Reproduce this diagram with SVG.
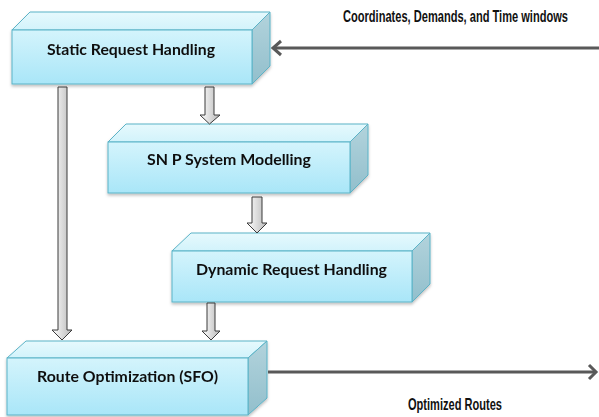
<svg xmlns="http://www.w3.org/2000/svg" width="599" height="417" viewBox="0 0 599 417">
<defs>
<linearGradient id="gFront" x1="0" y1="0" x2="0" y2="1">
<stop offset="0" stop-color="#d4f4fc"/>
<stop offset="1" stop-color="#a9e6f8"/>
</linearGradient>
<linearGradient id="gTop" x1="0" y1="0" x2="0" y2="1">
<stop offset="0" stop-color="#e6f9fd"/>
<stop offset="1" stop-color="#d2f3fb"/>
</linearGradient>
<linearGradient id="gSide" x1="0" y1="0" x2="0" y2="1">
<stop offset="0" stop-color="#b2d3dc"/>
<stop offset="1" stop-color="#92bfcc"/>
</linearGradient>
<linearGradient id="gArrow" x1="0" y1="0" x2="1" y2="0">
<stop offset="0" stop-color="#ffffff"/>
<stop offset="1" stop-color="#b8b8b8"/>
</linearGradient>
<filter id="sh" x="-10%" y="-10%" width="120%" height="130%">
<feDropShadow dx="0" dy="2" stdDeviation="1.5" flood-color="#000" flood-opacity="0.25"/>
</filter>
</defs>
<style>
.front{fill:url(#gFront);stroke:#5bb3c7;stroke-width:1}
.top{fill:url(#gTop);stroke:#5bb3c7;stroke-width:1}
.side{fill:url(#gSide);stroke:#5bb3c7;stroke-width:1}
.lbl{font-family:Lato,"Liberation Sans",sans-serif;font-weight:bold;font-size:16px;fill:#111;text-anchor:middle}
.cond{font-family:"Liberation Sans",sans-serif;font-weight:bold;font-size:12.5px;fill:#111}
.blk{fill:url(#gArrow);stroke:#3a3a3a;stroke-width:1}
.line{fill:none;stroke:#595959;stroke-width:3}
</style>

<g id="node-static" filter="url(#sh)">
<polygon class="top" points="12,30 30,12 270,12 252,30"/>
<polygon class="side" points="252,30 270,12 270,66 252,84"/>
<rect class="front" x="12" y="30" width="240" height="54"/>
<text class="lbl" x="131" y="55" textLength="168" lengthAdjust="spacingAndGlyphs">Static Request Handling</text>
</g>

<g id="node-snp" filter="url(#sh)">
<polygon class="top" points="108,142 126,124 368,124 350,142"/>
<polygon class="side" points="350,142 368,124 368,175 350,193"/>
<rect class="front" x="108" y="142" width="242" height="51"/>
<text class="lbl" x="229" y="165" textLength="164" lengthAdjust="spacingAndGlyphs">SN P System Modelling</text>
</g>

<g id="node-dynamic" filter="url(#sh)">
<polygon class="top" points="172,251 191,233 430,233 412,251"/>
<polygon class="side" points="412,251 430,233 430,284 412,302"/>
<rect class="front" x="172" y="251" width="240" height="51"/>
<text class="lbl" x="291.5" y="275" textLength="191" lengthAdjust="spacingAndGlyphs">Dynamic Request Handling</text>
</g>

<g id="node-route" filter="url(#sh)">
<polygon class="top" points="7,358 26,341 267,341 248,358"/>
<polygon class="side" points="248,358 267,341 267,398 248,415"/>
<rect class="front" x="7" y="358" width="241" height="57"/>
<text class="lbl" x="127.5" y="382" textLength="181" lengthAdjust="spacingAndGlyphs">Route Optimization (SFO)</text>
</g>

<g id="connectors">
<path class="blk" d="M58,87 H67 V330 H72 L62,340 L52,330 H58 Z"/>
<path class="blk" d="M205,87 H214 V115 H220 L209.5,124 L200,115 H205 Z"/>
<path class="blk" d="M252,197 H262 V223 H267 L257,233 L247,223 H252 Z"/>
<path class="blk" d="M207,303 H215 V331 H220 L211,340 L202,331 H207 Z"/>
<line class="line" x1="273" y1="48" x2="599" y2="48"/>
<polyline class="line" points="281,41 273,48 281,55"/>
<line class="line" x1="268" y1="372" x2="596" y2="372"/>
<polyline class="line" points="589,365 596,372 589,379"/>
<text class="cond" transform="translate(343,22) scale(1,1.3)" x="0" y="0" textLength="225" lengthAdjust="spacingAndGlyphs">Coordinates, Demands, and Time windows</text>
<text class="cond" transform="translate(408,410) scale(1,1.3)" x="0" y="0" textLength="94" lengthAdjust="spacingAndGlyphs">Optimized Routes</text>
</g>
</svg>
